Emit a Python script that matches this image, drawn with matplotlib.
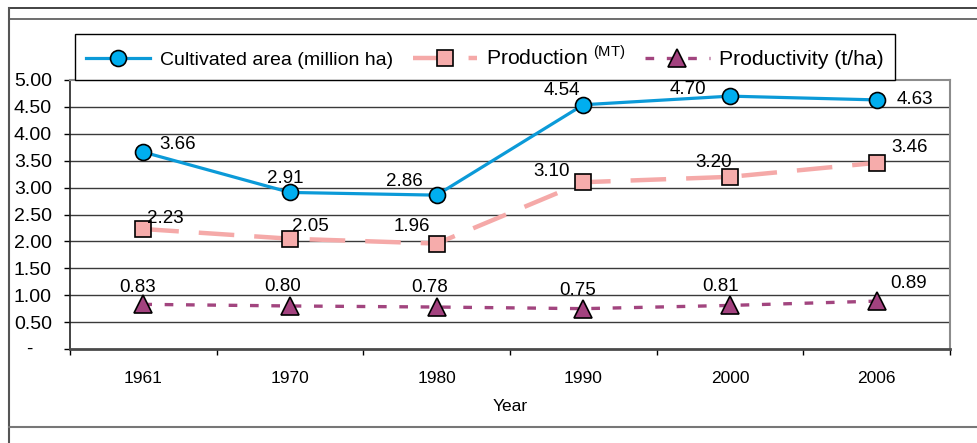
import numpy as np
import matplotlib
matplotlib.use("Agg")
import matplotlib.pyplot as plt
from matplotlib.lines import Line2D
import matplotlib.transforms as mtransforms

plt.rcParams['font.family'] = ['Liberation Sans', 'DejaVu Sans']
plt.rcParams['mathtext.fontset'] = 'custom'
plt.rcParams['mathtext.rm'] = 'Liberation Sans'

years = ['1961', '1970', '1980', '1990', '2000', '2006']
area = [3.66, 2.91, 2.86, 4.54, 4.70, 4.63]
production = [2.23, 2.05, 1.96, 3.10, 3.20, 3.46]
productivity = [0.83, 0.80, 0.78, 0.75, 0.81, 0.89]
yticks = [0, 0.5, 1.0, 1.5, 2.0, 2.5, 3.0, 3.5, 4.0, 4.5, 5.0]

# label offsets in pixels (placement of the data labels)
area_off = [(34, 8), (-5, 14), (-32, 14), (-21, 14), (-42, 7), (38, 0)]
prod_off = [(22, 11), (20, 12), (-25, 17), (-32, 11), (-16, 14), (33, 15)]
pty_off = [(-6, 17), (-7, 19), (-7, 20), (-6, 18), (-9, 19), (32, 18)]

FS = 13.5

fig = plt.figure(figsize=(9.77, 4.43), dpi=100)
ax = fig.add_axes([70/977, 1-349/443, 880/977, 269/443])

x = np.arange(len(years))

for yv in yticks[1:-1]:
    ax.axhline(yv, color='#3a3a3a', lw=1.0, zorder=0)

l1, = ax.plot(x, area, color='#0b9ad8', lw=2.3, marker='o', ms=11.5,
              mfc='#00aeef', mec='black', mew=1.2, label='Cultivated area (million ha)', zorder=3)
l2, = ax.plot(x, production, color='#f5a9a8', lw=3.2, ls=(0, (8, 4.5)), marker='s', ms=12,
              mfc='#f6acab', mec='black', mew=1.2, label=r'Production $^{\mathrm{(MT)}}$', zorder=2)
l3, = ax.plot(x, productivity, color='#a2457f', lw=2.4, ls=(0, (2.6, 3.8)), marker='^', ms=13,
              mfc='#a3427f', mec='black', mew=1.2, label='Productivity (t/ha)', zorder=2)

for vals, offs in [(area, area_off), (production, prod_off), (productivity, pty_off)]:
    for xi, v, o in zip(x, vals, offs):
        ax.annotate('%.2f' % v, (xi, v), xytext=o, textcoords='offset pixels',
                    ha='center', va='center', fontsize=FS, zorder=5)

ax.set_xlim(-0.5, len(years) - 0.5)
ax.set_ylim(0, 5)
ax.set_yticks(yticks)
ax.set_yticklabels(['' if t == 0 else '%.2f' % t for t in yticks], fontsize=14)
ax.text(-0.0466, 0, '-', transform=mtransforms.blended_transform_factory(ax.transAxes, ax.transData),
        ha='center', va='center', fontsize=FS)
ax.tick_params(axis='y', length=4, width=1, pad=9, direction='out')

ax.set_xticks(np.arange(-0.5, len(years)), minor=False)
ax.set_xticklabels([])
ax.set_xticks(x, minor=True)
ax.set_xticklabels(years, minor=True, fontsize=12.5)
ax.tick_params(axis='x', which='major', length=4, width=1, direction='out')
ax.tick_params(axis='x', which='minor', length=0, pad=16)

ax.set_xlabel('Year', fontsize=12.5)
ax.xaxis.set_label_coords(0.5, -0.185)

ax.spines['bottom'].set_color('#4a4a4a')
ax.spines['bottom'].set_linewidth(2)
ax.spines['left'].set_color('#222222')
ax.spines['left'].set_linewidth(1.2)
for s in ['top', 'right']:
    ax.spines[s].set_color('#8c8c8c')
    ax.spines[s].set_linewidth(1.5)

leg = fig.legend(handles=[l1, l2, l3], loc='center', ncol=3, fontsize=14,
                 bbox_to_anchor=((79+891)/2/977, 1-57/443), bbox_transform=fig.transFigure,
                 fancybox=False, edgecolor='black', framealpha=1, handlelength=3.3,
                 handletextpad=0.5, columnspacing=1.0, borderpad=0.55, borderaxespad=0)
leg.get_frame().set_linewidth(1.0)
texts = leg.get_texts()
texts[1].set_fontsize(15.2)
texts[2].set_fontsize(15.2)

# outer frame lines
fig.add_artist(Line2D([9/977, 1], [1-7.5/443, 1-7.5/443], transform=fig.transFigure, color='#222222', lw=1.2))
fig.add_artist(Line2D([9/977, 1], [1-19/443, 1-19/443], transform=fig.transFigure, color='#555555', lw=1.2))
fig.add_artist(Line2D([9/977, 9/977], [0, 1-7.5/443], transform=fig.transFigure, color='#555555', lw=1.5))
fig.add_artist(Line2D([9/977, 1], [1-427/443, 1-427/443], transform=fig.transFigure, color='#777777', lw=1.5))

fig.savefig('out.png', dpi=100)
